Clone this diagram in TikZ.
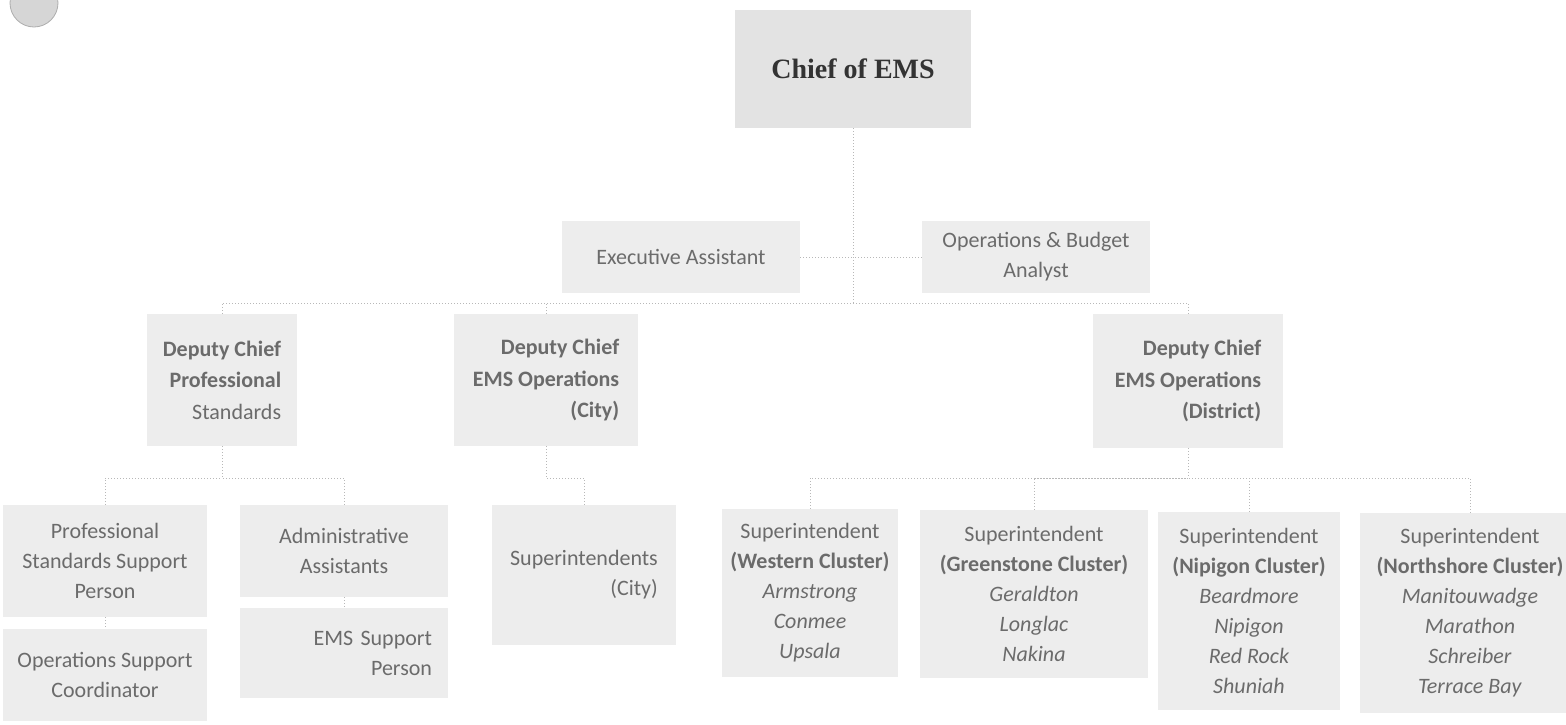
\documentclass[tikz,border=0pt]{standalone}
\usepackage{fontspec}
\setmainfont{Carlito}
\newfontfamily\titlefont{Liberation Serif}
\usetikzlibrary{positioning}
\usetikzlibrary{calc}
\colorlet{myfill}{black!7}
\colorlet{mychieffill}{black!11}
\colorlet{mytext}{black!58}
\colorlet{mylink}{black!28}
\newcommand{\bodyfont}{\fontsize{11}{15}\selectfont}
\newcommand{\depfont}{\fontsize{11}{15.8}\selectfont}
\tikzstyle{orgbox}=[fill=#1,inner sep=3pt,align=center,text=mytext,font=\bodyfont]
\tikzstyle{depbox}=[orgbox=#1,align=right,font=\depfont]
\tikzstyle{link}=[densely dotted,mylink,line width=0.5pt]

\begin{document}
\begin{tikzpicture}[x=0.5pt,y=-0.5pt]
  \useasboundingbox (0,0) rectangle (1566,724);
  \clip (0,0) rectangle (1566,724);

  % corner mark
  \fill[black!16,draw=black!32] (34,3) circle[radius=12pt];

  % chief
  \node[orgbox=mychieffill, minimum width=118pt, minimum height=59pt,
        font=\titlefont\bfseries\fontsize{14}{17}\selectfont, text=black!80] (chief) at (853,69) {Chief of EMS};

  % assistants
  \node[orgbox=myfill, minimum width=119pt, minimum height=36pt] (exec) at (681,257) {Executive Assistant};
  \node[orgbox=myfill, minimum width=114pt, minimum height=36pt] (ops) at (1036,257) {Operations \& Budget\\Analyst};

  % deputies
  \node[depbox=myfill, minimum width=75pt, minimum height=66pt] (dcps) at (222,380) {
    \textbf{Deputy Chief}\\
    \textbf{Professional}\\
    Standards
  };
  \node[depbox=myfill, minimum width=92pt, minimum height=66pt] (dccity) at (546,380) {
    \textbf{Deputy Chief}\\
    \textbf{EMS Operations}\\
    \textbf{(City)}
  };
  \node[depbox=myfill, minimum width=95pt, minimum height=67pt] (dcdist) at (1188,381) {
    \textbf{Deputy Chief}\\
    \textbf{EMS Operations}\\
    \textbf{(District)}
  };

  % professional standards staff
  \node[orgbox=myfill, minimum width=102pt, minimum height=56pt] (pssp) at (105,561) {Professional\\Standards Support\\Person};
  \node[orgbox=myfill, minimum width=102pt, minimum height=46pt] (osc) at (105,675) {Operations Support\\Coordinator};
  \node[orgbox=myfill, minimum width=104pt, minimum height=46pt] (admin) at (344,551) {Administrative\\Assistants};
  \node[orgbox=myfill, minimum width=104pt, minimum height=45pt, text width=88pt, inner sep=8pt, align=right] (emssp) at (344,653) {EMS Support\\Person};

  % city
  \node[orgbox=myfill, minimum width=92pt, minimum height=70pt, align=right] (supcity) at (584,575) {Superintendents\\(City)};

  % district clusters
  \node[orgbox=myfill, minimum width=88pt, minimum height=84pt] (west) at (810,593) {
    Superintendent\\
    \textbf{(Western Cluster)}\\
    \textit{Armstrong}\\
    \textit{Conmee}\\
    \textit{Upsala}
  };
  \node[orgbox=myfill, minimum width=114pt, minimum height=84pt] (green) at (1034,594) {
    Superintendent\\
    \textbf{(Greenstone Cluster)}\\
    \textit{Geraldton}\\
    \textit{Longlac}\\
    \textit{Nakina}
  };
  \node[orgbox=myfill, minimum width=91pt, minimum height=99pt] (nip) at (1249,611) {
    Superintendent\\
    \textbf{(Nipigon Cluster)}\\
    \textit{Beardmore}\\
    \textit{Nipigon}\\
    \textit{Red Rock}\\
    \textit{Shuniah}
  };
  \node[orgbox=myfill, minimum width=110pt, minimum height=100pt] (north) at (1470,613) {
    Superintendent\\
    \textbf{(Northshore Cluster)}\\
    \textit{Manitouwadge}\\
    \textit{Marathon}\\
    \textit{Schreiber}\\
    \textit{Terrace Bay}
  };

  % connectors
  \coordinate (top) at (853,303);
  \coordinate (psjoin) at (222,478);
  \coordinate (cityjoin) at (546,478);
  \coordinate (distjoin) at (1188,478);

  \draw[link] (chief.south) -- (top);
  \draw[link] (exec.east) -- (exec.east -| top);
  \draw[link] (ops.west) -- (ops.west -| top);
  \draw[link] (dcps.north) |- (top);
  \draw[link] (dccity.north) |- (top);
  \draw[link] (dcdist.north) |- (top);

  \draw[link] (dcps.south) -- (psjoin);
  \draw[link] (pssp.north) |- (psjoin);
  \draw[link] (admin.north) |- (psjoin);
  \draw[link] (pssp) -- (osc);
  \draw[link] (admin) -- (emssp);

  \draw[link] (dccity.south) -- (cityjoin);
  \draw[link] (supcity.north) |- (cityjoin);

  \draw[link] (dcdist.south) -- (distjoin);
  \draw[link] (west.north) |- (distjoin);
  \draw[link] (green.north) |- (distjoin);
  \draw[link] (nip.north) |- (distjoin);
  \draw[link] (north.north) |- (distjoin);
\end{tikzpicture}
\end{document}
